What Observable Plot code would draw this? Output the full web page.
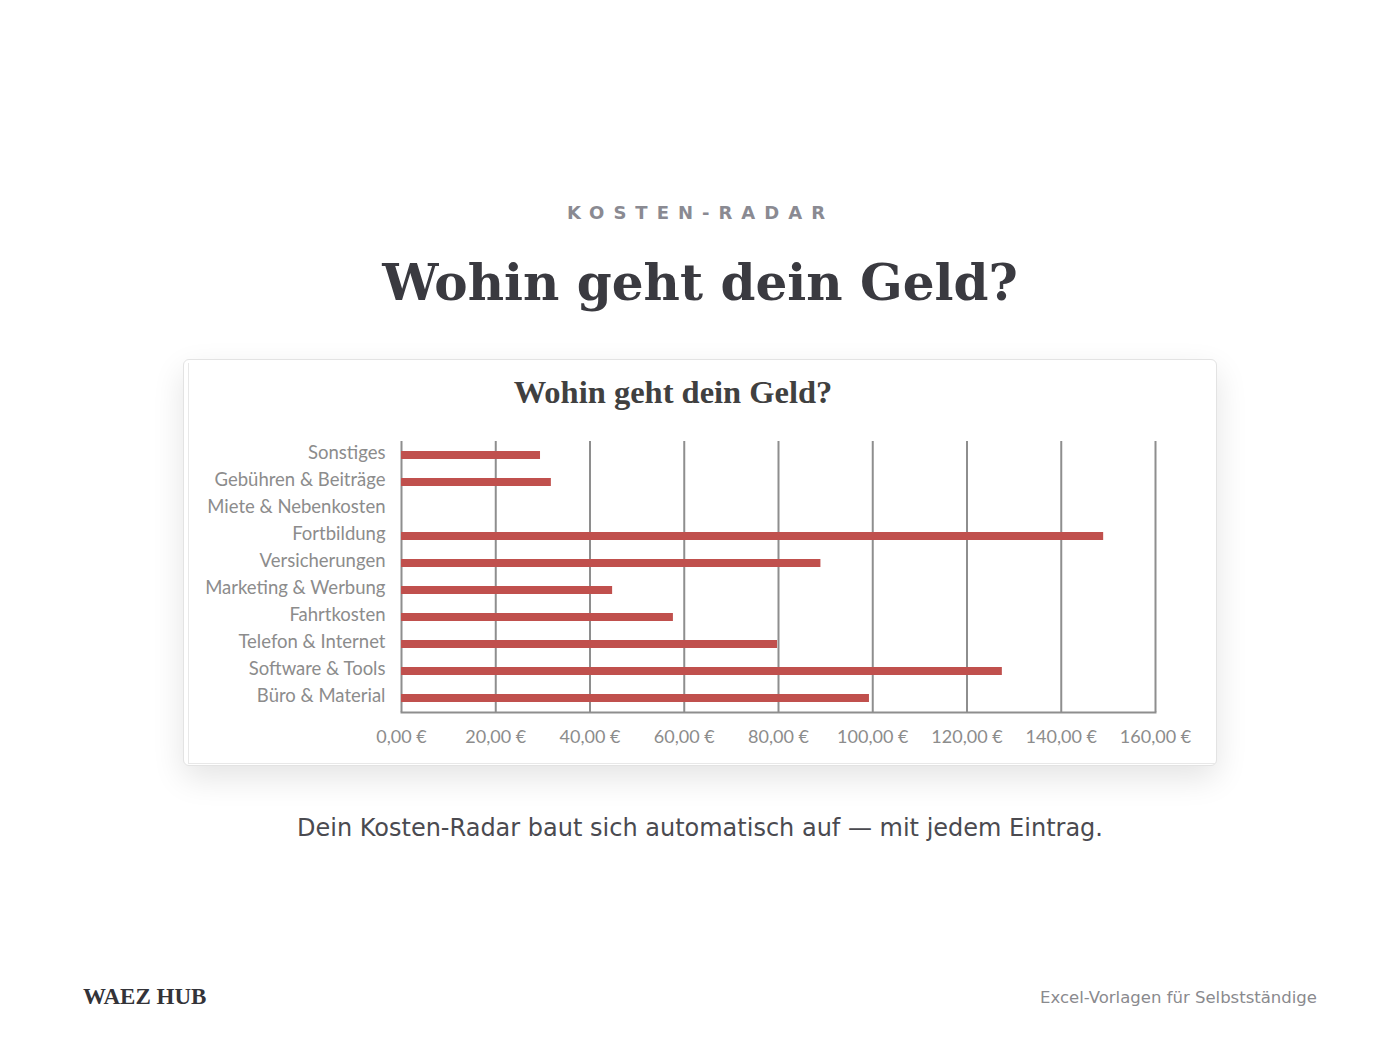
<!DOCTYPE html>
<html>
<head>
<meta charset="utf-8">
<script src="https://cdn.jsdelivr.net/npm/d3@7"></script>
<script src="https://cdn.jsdelivr.net/npm/@observablehq/plot@0.6"></script>
<style>
  html, body { margin: 0; padding: 0; background: #ffffff; }
  body { width: 1400px; height: 1050px; position: relative; overflow: hidden; font-family: "DejaVu Sans", sans-serif; }
  .abs { position: absolute; }
  #kicker { left: -4px; width: 1400px; top: 202px; text-align: center; font: bold 18px "DejaVu Sans", sans-serif; letter-spacing: 9px; color: #8a8a92; padding-left: 9px; box-sizing: border-box; }
  #title { left: 0; width: 1400px; top: 253px; text-align: center; font: bold 50px "DejaVu Serif", serif; color: #3a3a40; }
  #card { left: 183px; top: 359px; width: 1032px; height: 405px; background: #fff; border: 1px solid #e3e3e3; border-radius: 6px; box-shadow: 0 12px 32px rgba(0,0,0,0.11); }
  #inner { position: absolute; left: 4px; top: 3px; right: 1px; bottom: 1px; border: 1px solid #e8e8e8; border-right: none; border-top: none; }
  #ctitle { position: absolute; left: -27px; width: 100%; top: 14px; text-align: center; font: bold 32.5px "Liberation Serif", serif; color: #404040; }
  #chart { position: absolute; left: 4px; top: 60px; }
  #caption { left: 0; width: 1400px; top: 814px; text-align: center; font: 24px "DejaVu Sans", sans-serif; color: #4a4a50; }
  #brand { left: 83px; top: 984px; font: bold 23px "Liberation Serif", serif; color: #333338; }
  #tag { right: 83px; top: 988px; font: 16.5px "DejaVu Sans", sans-serif; color: #8a8a8e; }
</style>
</head>
<body>
<div id="kicker" class="abs">KOSTEN-RADAR</div>
<div id="title" class="abs">Wohin geht dein Geld?</div>
<div id="card" class="abs">
  <div id="inner"></div>
  <div id="ctitle">Wohin geht dein Geld?</div>
  <div id="chart"></div>
</div>
<div id="caption" class="abs">Dein Kosten-Radar baut sich automatisch auf — mit jedem Eintrag.</div>
<div id="brand" class="abs">WAEZ HUB</div>
<div id="tag" class="abs">Excel-Vorlagen für Selbstständige</div>
<script>
const categories = [
  "Sonstiges",
  "Gebühren & Beiträge",
  "Miete & Nebenkosten",
  "Fortbildung",
  "Versicherungen",
  "Marketing & Werbung",
  "Fahrtkosten",
  "Telefon & Internet",
  "Software & Tools",
  "Büro & Material"
];
const amounts = [29.5, 31.8, 0, 149, 89, 44.8, 57.7, 79.8, 127.5, 99.3];
const xTicks = [0, 20, 40, 60, 80, 100, 120, 140, 160];

const data = categories.map((c, i) => ({category: c, amount: amounts[i]}));
const euro = d => d.toFixed(2).replace(".", ",") + " €";

const chart = Plot.plot({
  width: 1026,
  height: 342,
  marginLeft: 213,
  marginRight: 59,
  marginTop: 21,
  marginBottom: 50,
  style: {fontFamily: "Lato, sans-serif", fontSize: "18.5px", color: "#8c8c8c", background: "transparent"},
  x: {domain: [0, 160], ticks: xTicks, label: null},
  y: {domain: categories, paddingInner: 0.7, paddingOuter: 0.35, label: null},
  marks: [
    Plot.gridX(xTicks.slice(1), {stroke: "#8e8e8e", strokeOpacity: 1, strokeWidth: 2}),
    Plot.ruleX([0], {stroke: "#8e8e8e", strokeWidth: 2}),
    Plot.frame({anchor: "bottom", stroke: "#8e8e8e", strokeWidth: 2}),
    Plot.barX(data, {x: "amount", y: "category", fill: "#c0504d"}),
    Plot.axisX(xTicks, {tickSize: 0, tickPadding: 18, tickFormat: euro, label: null, fontSize: 18}),
    Plot.axisY({tickSize: 0, tickPadding: 16, label: null, dy: -2})
  ]
});
document.getElementById("chart").appendChild(chart);
</script>
</body>
</html>
